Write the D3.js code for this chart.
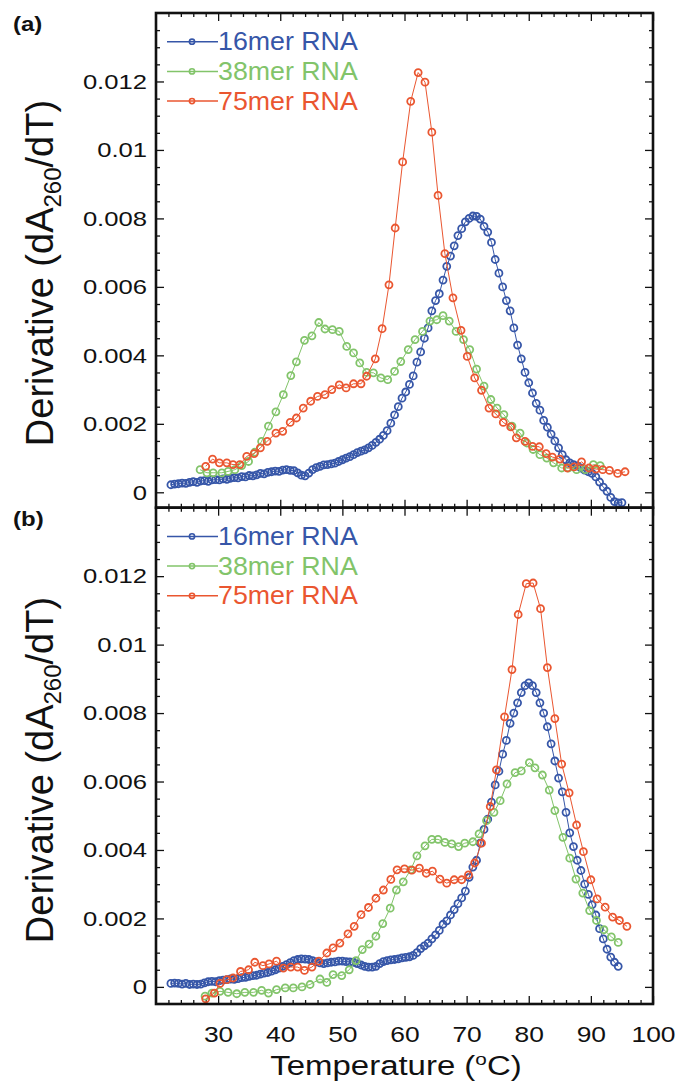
<!DOCTYPE html>
<html>
<head>
<meta charset="utf-8">
<script src="https://d3js.org/d3.v7.min.js"></script>
<style>
  body { margin: 0; background: #fff; }
  text { font-family: "Liberation Sans", Arial, Helvetica, sans-serif; fill: #111; }
</style>
</head>
<body>
<script>
// ---- data ----
var seriesNames = ["16mer RNA", "38mer RNA", "75mer RNA"];
var seriesColors = ["#3656a8", "#82c46a", "#ea5630"];

// 16mer, sampled finely
var temp16 = [
  22.4, 23.0, 23.6, 24.2, 24.8, 25.4, 26.0, 26.6, 27.2, 27.8,
  28.4, 29.0, 29.6, 30.2, 30.8, 31.4, 32.0, 32.6, 33.2, 33.8,
  34.4, 35.0, 35.6, 36.2, 36.8, 37.4, 38.0, 38.6, 39.2, 39.8,
  40.4, 41.0, 41.6, 42.2, 42.8, 43.4, 44.0, 44.6, 45.2, 45.8,
  46.4, 47.0, 47.6, 48.2, 48.8, 49.4, 50.0, 50.6, 51.2, 51.8,
  52.4, 53.0, 53.6, 54.2, 54.8, 55.4, 56.0, 56.6, 57.2, 57.8,
  58.4, 59.0, 59.6, 60.2, 60.8, 61.4, 62.0, 62.6, 63.2, 63.8,
  64.4, 65.0, 65.6, 66.2, 66.8, 67.4, 68.0, 68.6, 69.2, 69.8,
  70.4, 71.0, 71.6, 72.2, 72.8, 73.4, 74.0, 74.6, 75.2, 75.8,
  76.4, 77.0, 77.6, 78.2, 78.8, 79.4, 80.0, 80.6, 81.2, 81.8,
  82.4, 83.0, 83.6, 84.2, 84.8, 85.4, 86.0, 86.6, 87.2, 87.8,
  88.4, 89.0, 89.6, 90.2, 90.8, 91.4, 92.0, 92.6, 93.2, 93.8,
  94.4, 95.0
];
var a16 = [
  0.00022, 0.00024, 0.00025, 0.00027, 0.00026, 0.00029, 0.00031, 0.00029, 0.00033, 0.00034,
  0.00032, 0.00036, 0.00037, 0.00036, 0.00039, 0.00038, 0.00041, 0.00043, 0.00042, 0.00046,
  0.00045, 0.00049, 0.00048, 0.00051, 0.00055, 0.00054, 0.00058, 0.0006, 0.00062, 0.00061,
  0.00065, 0.00066, 0.00064, 0.00063, 0.00057, 0.0005, 0.00048, 0.00056, 0.00066, 0.00072,
  0.00076, 0.0008, 0.00081, 0.00083, 0.00085, 0.0009, 0.00095, 0.001, 0.00104, 0.0011,
  0.00116, 0.0012, 0.00124, 0.0013, 0.00137, 0.00146, 0.00155, 0.00166, 0.0018, 0.00202,
  0.00226, 0.0025, 0.00275, 0.00293, 0.00315, 0.0034, 0.0038, 0.0041, 0.0045, 0.0048,
  0.0053, 0.0056, 0.0058, 0.0062, 0.0066, 0.0069, 0.0072, 0.0075, 0.0077, 0.0079,
  0.008, 0.00807, 0.00806, 0.00798, 0.00777, 0.0076, 0.0073, 0.0068, 0.0064, 0.006,
  0.0056, 0.0053, 0.0048, 0.0043, 0.0039, 0.0035, 0.0032, 0.0029, 0.0026, 0.0024,
  0.0021, 0.0019, 0.0017, 0.0015, 0.0013, 0.0011, 0.00095, 0.00086, 0.00081, 0.00077,
  0.00071, 0.00065, 0.0006, 0.00055, 0.00045, 0.0003, 0.00015, 0.00003, -0.00015, -0.00027,
  -0.00031, -0.0003
];
var b16 = [
  0.0001, 0.00011, 0.0001, 0.00008, 0.0001, 0.00007, 0.00008, 0.00007, 0.00008, 0.00012,
  0.00015, 0.00016, 0.00015, 0.00018, 0.0002, 0.00021, 0.00023, 0.00022, 0.00024, 0.00027,
  0.00028, 0.00031, 0.00033, 0.00034, 0.00037, 0.0004, 0.00042, 0.00046, 0.0005, 0.00055,
  0.0006, 0.00065, 0.00071, 0.00077, 0.0008, 0.00082, 0.00081, 0.0008, 0.00077, 0.00073,
  0.0007, 0.00068, 0.0007, 0.00072, 0.00073, 0.00075, 0.00075, 0.00074, 0.00073, 0.00072,
  0.00068, 0.00064, 0.0006, 0.00058, 0.00058, 0.0006, 0.00068, 0.00074, 0.00077, 0.00079,
  0.0008, 0.00082, 0.00085, 0.00086, 0.00088, 0.00092, 0.001, 0.00112, 0.0012, 0.00128,
  0.0014, 0.00152, 0.00165, 0.00183, 0.00193, 0.0021, 0.00226, 0.00243, 0.0026, 0.0028,
  0.0032, 0.0035, 0.0037, 0.0042, 0.0046, 0.0049, 0.0054, 0.0059, 0.0063, 0.0068,
  0.0072, 0.0077, 0.008, 0.0083, 0.0086, 0.0088, 0.00888, 0.0088, 0.0086, 0.0083,
  0.008, 0.0076, 0.0071, 0.0066, 0.0061, 0.0057, 0.0051, 0.0045, 0.0041, 0.0037,
  0.0034, 0.003, 0.0027, 0.0024, 0.0021, 0.0017, 0.0014, 0.0011, 0.00087, 0.00072,
  0.0006
];

// 38mer
var tempA38 = [27.1, 28.2, 29.2, 30.6, 31.6, 32.7, 33.8, 34.9, 35.9, 37.0, 38.1, 39.3, 40.5, 41.7, 42.6,
  43.9, 45.1, 46.2, 47.2, 48.4, 49.5, 50.7, 51.8, 52.8, 53.9, 55.0, 56.2, 57.3, 58.4, 59.4, 60.6, 61.7,
  62.9, 64.1, 65.2, 66.2, 67.2, 68.3, 69.5, 70.5, 71.6, 72.8, 73.9, 74.9, 76.0, 77.3, 78.6, 79.7, 80.7,
  81.8, 82.9, 84.0, 85.3, 86.4, 87.7, 89.1, 90.4, 91.5];
var a38 = [0.00066, 0.00057, 0.00057, 0.00057, 0.00061, 0.00066, 0.00078, 0.0009, 0.00117, 0.00149,
  0.00193, 0.00235, 0.00285, 0.00341, 0.00381, 0.00444, 0.00457, 0.00496, 0.00477, 0.00475, 0.0047,
  0.00426, 0.00407, 0.00378, 0.0035, 0.00349, 0.00334, 0.00329, 0.00353, 0.00382, 0.00417, 0.00446,
  0.0047, 0.005, 0.00504, 0.00516, 0.005, 0.0047, 0.00446, 0.00417, 0.0036, 0.0031, 0.00271, 0.00246,
  0.00227, 0.00193, 0.00173, 0.00144, 0.00125, 0.0011, 0.001, 0.00086, 0.00071, 0.00071, 0.00066,
  0.00066, 0.00081, 0.00078];
var tempB38 = [27.9, 29.0, 30.3, 31.6, 33.0, 34.3, 35.7, 37.0, 38.1, 39.4, 40.8, 42.1, 43.5, 44.8, 46.4,
  47.5, 48.5, 49.9, 51.1, 52.2, 53.2, 54.3, 55.4, 56.5, 57.7, 58.7, 59.8, 61.0, 62.0, 63.3, 64.4, 65.4,
  66.5, 67.6, 68.7, 69.7, 71.0, 72.0, 73.2, 74.4, 75.4, 76.5, 77.8, 78.8, 80.1, 81.0, 82.2, 83.3, 84.2,
  85.5, 86.6, 87.6, 88.7, 89.8, 90.9, 92.1, 93.3, 94.4];
var b38 = [-0.00027, -0.00018, -0.00013, -0.00016, -0.0002, -0.00016, -0.00016, -0.0001, -0.00018,
  -0.00008, -0.00003, -0.00003, 0, 0.00007, 0.00023, 0.00013, 0.00036, 0.00033, 0.0005, 0.00077,
  0.00109, 0.00125, 0.00148, 0.00185, 0.0023, 0.00283, 0.00307, 0.00342, 0.00383, 0.00412, 0.00431,
  0.00431, 0.00422, 0.00418, 0.0041, 0.0042, 0.00424, 0.00447, 0.00486, 0.0051, 0.00544, 0.00593,
  0.00626, 0.00631, 0.00655, 0.0064, 0.00619, 0.00575, 0.00515, 0.00437, 0.00376, 0.00315, 0.00274,
  0.00223, 0.00194, 0.00167, 0.00146, 0.0013];

// 75mer
var tempA75 = [28.0, 29.1, 30.2, 31.4, 32.4, 33.5, 34.6, 35.8, 36.8, 37.9, 39.3, 40.4, 41.6, 42.6, 43.7,
  44.9, 46.0, 47.2, 48.3, 49.5, 50.6, 51.8, 53.0, 53.9, 55.3, 56.4, 57.5, 58.5, 59.7, 61.0, 62.2, 63.3,
  64.4, 65.4, 66.5, 67.8, 69.1, 70.1, 71.3, 72.4, 73.6, 74.7, 75.9, 77.1, 78.0, 79.4, 80.6, 81.7, 82.8,
  83.8, 85.0, 86.2, 87.3, 88.5, 89.7, 90.8, 91.9, 93.0, 94.3, 95.5];
var a75 = [0.00076, 0.00097, 0.00086, 0.00086, 0.00081, 0.00081, 0.00105, 0.00113, 0.0013, 0.00149,
  0.00173, 0.00178, 0.00204, 0.00217, 0.00246, 0.00266, 0.0028, 0.00285, 0.003, 0.00314, 0.00305,
  0.00317, 0.00317, 0.00339, 0.0039, 0.00478, 0.00606, 0.00772, 0.00965, 0.01142, 0.01226, 0.01198,
  0.01052, 0.00867, 0.00697, 0.00568, 0.00473, 0.00397, 0.00334, 0.00298, 0.00246, 0.00229, 0.00204,
  0.00191, 0.00159, 0.00149, 0.00134, 0.00133, 0.00113, 0.00103, 0.00097, 0.00071, 0.00074, 0.00089,
  0.00071, 0.00068, 0.00066, 0.00064, 0.00055, 0.0006];
var tempB75 = [28.0, 29.4, 30.3, 31.4, 32.4, 33.6, 34.9, 35.9, 37.2, 38.2, 39.4, 40.5, 41.7, 42.8, 43.9,
  45.1, 46.2, 47.5, 48.5, 49.6, 50.9, 51.9, 53.0, 54.2, 55.4, 56.6, 57.8, 58.8, 60.0, 61.2, 62.4, 63.5,
  64.5, 65.7, 66.8, 68.0, 69.2, 70.3, 71.3, 72.4, 73.8, 74.8, 76.1, 77.3, 78.3, 79.6, 80.7, 81.9, 83.0,
  84.2, 85.3, 86.5, 87.7, 88.8, 90.0, 91.0, 92.3, 93.5, 94.6, 95.8];
var b75 = [-0.00035, -0.00018, 0.0001, 0.00021, 0.00026, 0.00045, 0.0005, 0.00072, 0.00062, 0.00067,
  0.00075, 0.00055, 0.00058, 0.00058, 0.00048, 0.00058, 0.00075, 0.00099, 0.00114, 0.00128, 0.00155,
  0.00177, 0.00211, 0.00232, 0.00259, 0.00283, 0.00314, 0.00342, 0.00345, 0.00341, 0.00347, 0.00332,
  0.00338, 0.00315, 0.00303, 0.00313, 0.00313, 0.00327, 0.00362, 0.0042, 0.00527, 0.00634, 0.00789,
  0.00927, 0.01088, 0.01178, 0.0118, 0.01105, 0.00933, 0.00784, 0.00651, 0.00567, 0.00473, 0.00395,
  0.00313, 0.00257, 0.00233, 0.00204, 0.00194, 0.00177];

// ticks
var xMajor = [30, 40, 50, 60, 70, 80, 90, 100];
var xLabels = ["30", "40", "50", "60", "70", "80", "90", "100"];
var xMinor = [22, 24, 26, 28, 32, 34, 36, 38, 42, 44, 46, 48, 52, 54, 56, 58, 62, 64, 66, 68,
  72, 74, 76, 78, 82, 84, 86, 88, 92, 94, 96, 98];
var yMajor = [0, 0.002, 0.004, 0.006, 0.008, 0.01, 0.012];
var yLabels = ["0", "0.002", "0.004", "0.006", "0.008", "0.01", "0.012"];
var yMinor = [0.0005, 0.001, 0.0015, 0.0025, 0.003, 0.0035, 0.0045, 0.005, 0.0055, 0.0065, 0.007,
  0.0075, 0.0085, 0.009, 0.0095, 0.0105, 0.011, 0.0115, 0.0125, 0.013, 0.0135];

// ---- layout ----
var W = 679, H = 1086;
var left = 156, right = 653;

var panels = [
  { label: "(a)", top: 13, bottom: 507.7, yDomain: [-0.00045, 0.014], titleY: 273, xLabels: false,
    series: [[temp16, a16], [tempA38, a38], [tempA75, a75]] },
  { label: "(b)", top: 507.7, bottom: 1004, yDomain: [-0.0005, 0.014], titleY: 770, xLabels: true,
    series: [[temp16, b16], [tempB38, b38], [tempB75, b75]] }
];

var svg = d3.select("body").append("svg")
  .attr("width", W)
  .attr("height", H)
  .style("display", "block");

svg.append("rect").attr("width", W).attr("height", H).attr("fill", "#fff");

var x = d3.scaleLinear().domain([20, 100]).range([left, right]);

// stretch text horizontally, the original type is wide
function stretch(sel, k) {
  sel.each(function() {
    var w = this.getComputedTextLength();
    d3.select(this).attr("textLength", w * k).attr("lengthAdjust", "spacingAndGlyphs");
  });
}

function styleAxis(g) {
  g.select(".domain").remove();
  g.selectAll(".tick line").attr("stroke", "#111").attr("stroke-width", 1.3);
}

panels.forEach(function(p) {
  var y = d3.scaleLinear().domain(p.yDomain).range([p.bottom, p.top]);
  var g = svg.append("g");

  // left axis, labelled
  var la = g.append("g").attr("transform", "translate(" + left + ",0)")
    .call(d3.axisLeft(y).tickValues(yMajor).tickSize(-8).tickPadding(9)
      .tickFormat(function(d, i) { return yLabels[i]; }))
    .call(styleAxis);
  la.selectAll("text").attr("font-size", 21).attr("fill", "#111")
    .attr("font-family", "'Liberation Sans', Arial, sans-serif");
  stretch(la.selectAll("text"), 1.22);
  g.append("g").attr("transform", "translate(" + left + ",0)")
    .call(d3.axisLeft(y).tickValues(yMinor).tickSize(-4).tickFormat(""))
    .call(styleAxis);

  // right axis
  g.append("g").attr("transform", "translate(" + right + ",0)")
    .call(d3.axisRight(y).tickValues(yMajor).tickSize(-8).tickFormat(""))
    .call(styleAxis);
  g.append("g").attr("transform", "translate(" + right + ",0)")
    .call(d3.axisRight(y).tickValues(yMinor).tickSize(-4).tickFormat(""))
    .call(styleAxis);

  // top axis
  g.append("g").attr("transform", "translate(0," + p.top + ")")
    .call(d3.axisTop(x).tickValues(xMajor).tickSize(-8).tickFormat(""))
    .call(styleAxis);
  g.append("g").attr("transform", "translate(0," + p.top + ")")
    .call(d3.axisTop(x).tickValues(xMinor).tickSize(-4).tickFormat(""))
    .call(styleAxis);

  // bottom axis
  var ba = g.append("g").attr("transform", "translate(0," + p.bottom + ")")
    .call(d3.axisBottom(x).tickValues(xMajor).tickSize(-8).tickPadding(22)
      .tickFormat(function(d, i) { return p.xLabels ? xLabels[i] : ""; }))
    .call(styleAxis);
  ba.selectAll("text").attr("font-size", 22).attr("fill", "#111")
    .attr("font-family", "'Liberation Sans', Arial, sans-serif");
  if (p.xLabels) stretch(ba.selectAll("text"), 1.2);
  g.append("g").attr("transform", "translate(0," + p.bottom + ")")
    .call(d3.axisBottom(x).tickValues(xMinor).tickSize(-4).tickFormat(""))
    .call(styleAxis);

  // series
  var line = d3.line().x(function(d) { return x(d[0]); }).y(function(d) { return y(d[1]); });
  p.series.forEach(function(s, si) {
    var pts = d3.zip(s[0], s[1]).filter(function(d) { return d[1] !== undefined; });
    var sg = g.append("g");
    sg.append("path").datum(pts)
      .attr("d", line)
      .attr("fill", "none")
      .attr("stroke", seriesColors[si])
      .attr("stroke-width", 1);
    sg.selectAll("circle").data(pts).enter().append("circle")
      .attr("cx", function(d) { return x(d[0]); })
      .attr("cy", function(d) { return y(d[1]); })
      .attr("r", 3.5)
      .attr("fill", "none")
      .attr("stroke", seriesColors[si])
      .attr("stroke-width", 1.8);
  });

  // legend
  seriesNames.forEach(function(name, i) {
    var ly = p.top + 28.7 + i * 29.7;
    var lg = g.append("g");
    lg.append("line").attr("x1", 167).attr("x2", 218).attr("y1", ly).attr("y2", ly)
      .attr("stroke", seriesColors[i]).attr("stroke-width", 1.5);
    lg.append("circle").attr("cx", 192).attr("cy", ly).attr("r", 2.6)
      .attr("fill", "none").attr("stroke", seriesColors[i]).attr("stroke-width", 1.6);
    var t = lg.append("text").attr("x", 218).attr("y", ly + 8.5)
      .attr("font-size", 25).style("fill", seriesColors[i]).text(name);
    stretch(t, 1.07);
  });

  // frame
  g.append("rect")
    .attr("x", left).attr("y", p.top)
    .attr("width", right - left).attr("height", p.bottom - p.top)
    .attr("fill", "none").attr("stroke", "#111").attr("stroke-width", 2.6);

  // panel tag
  var tag = svg.append("text").attr("x", 13).attr("y", p.top + 18)
    .attr("font-size", 20).attr("font-weight", "bold").text(p.label);
  stretch(tag, 1.2);

  // y title
  var yt = svg.append("text")
    .attr("transform", "translate(53," + p.titleY + ") rotate(-90)")
    .attr("text-anchor", "middle")
    .attr("font-size", 38);
  yt.append("tspan").text("Derivative (dA");
  yt.append("tspan").attr("font-size", 24).attr("dy", 8).text("260");
  yt.append("tspan").attr("dy", -8).text("/dT)");
});

// x title
var xt = svg.append("text")
  .attr("x", 396).attr("y", 1075)
  .attr("text-anchor", "middle")
  .attr("font-size", 27);
xt.append("tspan").text("Temperature (");
xt.append("tspan").attr("font-size", 17).attr("dy", -10).text("o");
xt.append("tspan").attr("dy", 10).text("C)");
stretch(xt, 1.22);
</script>
</body>
</html>
